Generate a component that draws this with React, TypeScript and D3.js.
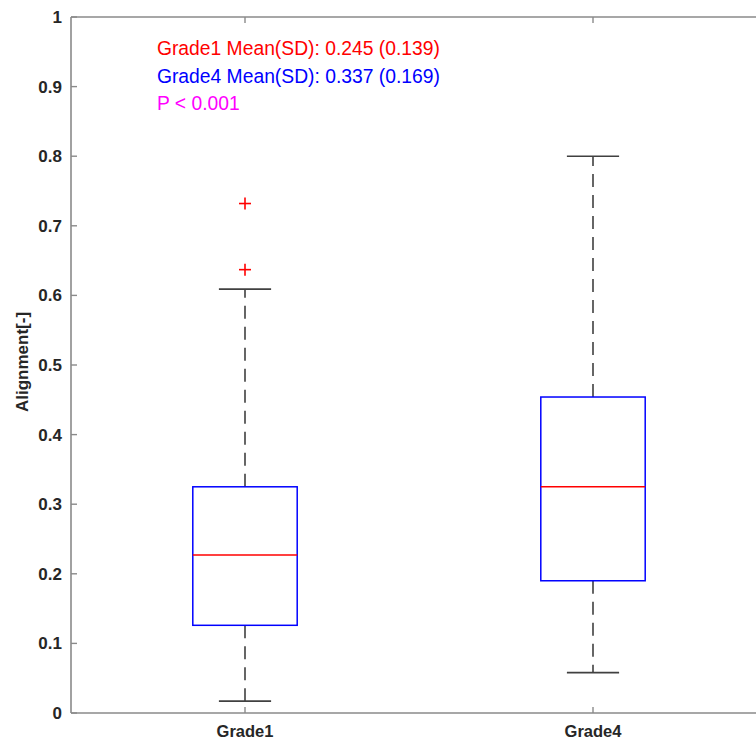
import React from "react";
import * as d3 from "d3";

const categories = ["Grade1", "Grade4"];
const lowerWhisker = [0.017, 0.058];
const q1 = [0.126, 0.19];
const median = [0.227, 0.325];
const q3 = [0.325, 0.454];
const upperWhisker = [0.609, 0.8];
const outliers = [[0.732, 0.637], []];
const yTicks = [0, 0.1, 0.2, 0.3, 0.4, 0.5, 0.6, 0.7, 0.8, 0.9, 1];
const annotations = [
  { text: "Grade1 Mean(SD): 0.245 (0.139)", color: "#ff0000" },
  { text: "Grade4 Mean(SD): 0.337 (0.169)", color: "#0000ff" },
  { text: "P < 0.001", color: "#ff00ff" },
];

const W = 756;
const H = 741;
const left = 71;
const top = 17;
const bottom = 713;
const right = 767;

export default function App() {
  const x = d3.scaleLinear().domain([0.5, 2.5]).range([left, right]);
  const y = d3.scaleLinear().domain([0, 1]).range([bottom, top]);
  const boxW = 0.3;
  const capW = 0.15;
  const axisColor = "#8a8a8a";
  const textColor = "#262626";
  const font = "'Liberation Sans', Arial, Helvetica, sans-serif";
  return (
    <svg width={W} height={H} style={{ position: "absolute", left: 0, top: 0, background: "#fff" }} fontFamily={font}>
      <line x1={left} x2={right} y1={top} y2={top} stroke={axisColor} strokeWidth={1.6} />
      <line x1={left} x2={right} y1={bottom} y2={bottom} stroke={axisColor} strokeWidth={1.6} />
      <line x1={left} x2={left} y1={top} y2={bottom} stroke={axisColor} strokeWidth={1.6} />
      {yTicks.map((t) => (
        <g key={t}>
          <line x1={left} x2={left + 6} y1={y(t)} y2={y(t)} stroke={axisColor} strokeWidth={1.4} />
          <text x={left - 9} y={y(t)} dy="0.35em" textAnchor="end" fontSize={17} fontWeight="bold" fill={textColor}>
            {d3.format("~g")(t)}
          </text>
        </g>
      ))}
      {categories.map((c, i) => (
        <g key={c}>
          <line x1={x(i + 1)} x2={x(i + 1)} y1={bottom} y2={bottom - 6} stroke={axisColor} strokeWidth={1.4} />
          <line x1={x(i + 1)} x2={x(i + 1)} y1={top} y2={top + 6} stroke={axisColor} strokeWidth={1.4} />
          <text x={x(i + 1)} y={bottom + 24} textAnchor="middle" fontSize={16.5} fontWeight="bold" fill={textColor}>
            {c}
          </text>
        </g>
      ))}
      <text transform={`translate(28, 362) rotate(-90)`} textAnchor="middle" fontSize={17} fontWeight="bold" fill={textColor}>
        Alignment[-]
      </text>
      {categories.map((c, i) => {
        const cx = x(i + 1);
        const bw = x(1 + boxW / 2) - x(1 - boxW / 2);
        const cw = x(1 + capW / 2) - x(1 - capW / 2);
        return (
          <g key={c}>
            <line x1={cx} x2={cx} y1={y(q3[i])} y2={y(upperWhisker[i])} stroke="#404040" strokeWidth={1.6} strokeDasharray="13 8" />
            <line x1={cx} x2={cx} y1={y(q1[i])} y2={y(lowerWhisker[i])} stroke="#404040" strokeWidth={1.6} strokeDasharray="13 8" />
            <line x1={cx - cw / 2} x2={cx + cw / 2} y1={y(upperWhisker[i])} y2={y(upperWhisker[i])} stroke="#404040" strokeWidth={1.6} />
            <line x1={cx - cw / 2} x2={cx + cw / 2} y1={y(lowerWhisker[i])} y2={y(lowerWhisker[i])} stroke="#404040" strokeWidth={1.6} />
            <rect x={cx - bw / 2} y={y(q3[i])} width={bw} height={y(q1[i]) - y(q3[i])} fill="none" stroke="#0000ff" strokeWidth={1.5} />
            <line x1={cx - bw / 2} x2={cx + bw / 2} y1={y(median[i])} y2={y(median[i])} stroke="#ff0000" strokeWidth={1.5} />
            {outliers[i].map((o, j) => (
              <g key={j} stroke="#ff0000" strokeWidth={1.6}>
                <line x1={cx - 6} x2={cx + 6} y1={y(o)} y2={y(o)} />
                <line x1={cx} x2={cx} y1={y(o) - 6} y2={y(o) + 6} />
              </g>
            ))}
          </g>
        );
      })}
      {annotations.map((a, i) => (
        <text key={i} x={x(0.747)} y={y(0.945) + i * 27.5} fontSize={19.3} fill={a.color}>
          {a.text}
        </text>
      ))}
    </svg>
  );
}
